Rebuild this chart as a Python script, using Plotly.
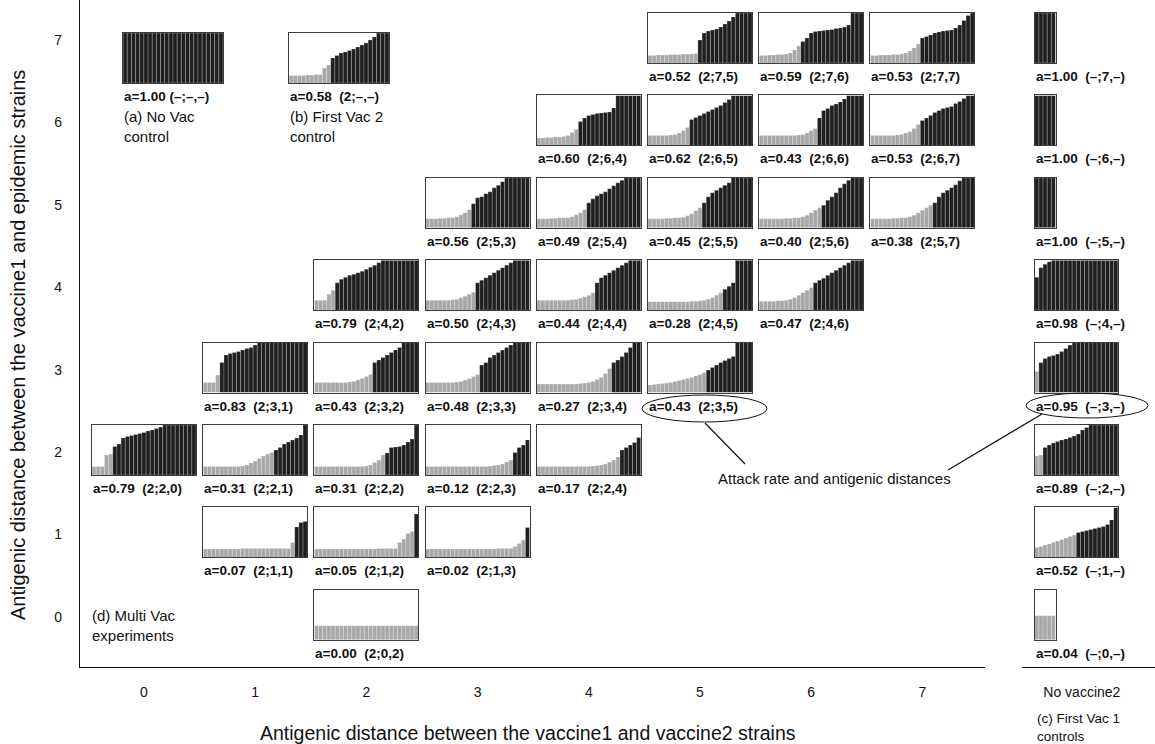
import plotly.graph_objects as go

W, H = 1155, 744
FONT = "Liberation Sans, Arial, Helvetica, sans-serif"

# ---------------- data ----------------
col_labels = ["0", "1", "2", "3", "4", "5", "6", "7"]
row_labels = ["0", "1", "2", "3", "4", "5", "6", "7"]

# multi-vaccination experiments (vaccine2 distance = column, epidemic distance = row)
panel_row = [7, 7, 7, 6, 6, 6, 6, 5, 5, 5, 5, 5, 4, 4, 4, 4, 4, 3, 3, 3, 3, 3, 2, 2, 2, 2, 2, 1, 1, 1, 0]
panel_col = [5, 6, 7, 4, 5, 6, 7, 3, 4, 5, 6, 7, 2, 3, 4, 5, 6, 1, 2, 3, 4, 5, 0, 1, 2, 3, 4, 1, 2, 3, 2]
panel_attack = [0.52, 0.59, 0.53, 0.60, 0.62, 0.43, 0.53, 0.56, 0.49, 0.45, 0.40, 0.38,
                0.79, 0.50, 0.44, 0.28, 0.47, 0.83, 0.43, 0.48, 0.27, 0.43,
                0.79, 0.31, 0.31, 0.12, 0.17, 0.07, 0.05, 0.02, 0.00]
panel_ngray = [12, 10, 12, 10, 10, 14, 12, 11, 12, 13, 15, 15, 5, 12, 14, 18, 13, 4, 14, 13, 18, 14,
               5, 17, 17, 21, 20, 22, 24, 24, 25]
panel_heights = [
    [0.15,0.15,0.16,0.16,0.16,0.17,0.17,0.17,0.18,0.18,0.18,0.19,0.46,0.60,0.64,0.66,0.68,0.72,0.78,0.84,0.92,1,1,1,1],
    [0.15,0.15,0.16,0.16,0.17,0.17,0.18,0.20,0.26,0.34,0.43,0.50,0.60,0.63,0.64,0.65,0.66,0.67,0.69,0.70,0.72,0.76,1,1,1],
    [0.15,0.15,0.16,0.16,0.16,0.17,0.17,0.18,0.20,0.24,0.30,0.38,0.50,0.53,0.56,0.60,0.62,0.64,0.65,0.66,0.70,0.76,0.85,0.95,1],
    [0.15,0.15,0.16,0.16,0.17,0.17,0.18,0.20,0.26,0.32,0.48,0.55,0.60,0.62,0.64,0.65,0.66,0.67,0.75,1,1,1,1,1,1],
    [0.20,0.20,0.20,0.20,0.20,0.21,0.22,0.25,0.30,0.36,0.52,0.56,0.60,0.64,0.68,0.72,0.76,0.80,0.86,0.92,1,1,1,1,1],
    [0.20,0.20,0.20,0.20,0.20,0.20,0.20,0.20,0.20,0.21,0.22,0.25,0.30,0.34,0.55,0.70,0.74,0.80,0.83,0.87,0.93,1,1,1,1],
    [0.20,0.20,0.20,0.20,0.20,0.20,0.21,0.22,0.25,0.28,0.34,0.42,0.50,0.55,0.60,0.66,0.70,0.74,0.76,0.78,0.84,0.88,0.94,1,1],
    [0.18,0.18,0.18,0.19,0.19,0.20,0.20,0.22,0.26,0.30,0.36,0.48,0.60,0.62,0.68,0.72,0.80,0.85,0.92,1,1,1,1,1,1],
    [0.18,0.18,0.18,0.19,0.19,0.20,0.20,0.20,0.22,0.26,0.30,0.36,0.50,0.58,0.64,0.68,0.72,0.78,0.84,0.90,0.95,1,1,1,1],
    [0.18,0.18,0.18,0.18,0.19,0.19,0.20,0.20,0.21,0.24,0.28,0.34,0.40,0.50,0.62,0.70,0.75,0.80,0.85,0.90,1,1,1,1,1],
    [0.18,0.18,0.18,0.18,0.18,0.18,0.19,0.19,0.20,0.20,0.22,0.25,0.30,0.35,0.40,0.45,0.55,0.62,0.70,0.80,0.88,0.95,1,1,1],
    [0.18,0.18,0.18,0.18,0.18,0.19,0.19,0.20,0.20,0.22,0.25,0.30,0.35,0.40,0.45,0.50,0.62,0.70,0.75,0.80,0.86,0.94,1,1,1],
    [0.20,0.20,0.20,0.32,0.40,0.55,0.62,0.66,0.70,0.72,0.75,0.78,0.82,0.86,0.90,0.95,1,1,1,1,1,1,1,1,1],
    [0.20,0.20,0.20,0.20,0.20,0.20,0.21,0.22,0.25,0.28,0.32,0.36,0.55,0.60,0.65,0.70,0.75,0.80,0.85,0.90,0.95,1,1,1,1],
    [0.20,0.20,0.20,0.20,0.20,0.20,0.20,0.20,0.21,0.22,0.24,0.27,0.30,0.35,0.55,0.65,0.70,0.75,0.80,0.85,0.90,0.95,1,1,1],
    [0.17,0.17,0.17,0.17,0.17,0.17,0.17,0.17,0.17,0.17,0.18,0.18,0.19,0.20,0.22,0.25,0.30,0.35,0.42,0.48,0.55,1,1,1,1],
    [0.18,0.18,0.18,0.18,0.19,0.19,0.20,0.22,0.25,0.30,0.35,0.40,0.45,0.55,0.60,0.64,0.70,0.75,0.80,0.85,0.90,0.95,1,1,1],
    [0.20,0.20,0.20,0.35,0.60,0.75,0.78,0.80,0.82,0.85,0.88,0.90,0.95,1,1,1,1,1,1,1,1,1,1,1,1],
    [0.20,0.20,0.20,0.20,0.20,0.20,0.20,0.20,0.21,0.22,0.25,0.28,0.32,0.36,0.60,0.65,0.70,0.75,0.80,0.85,0.90,1,1,1,1],
    [0.20,0.20,0.20,0.20,0.20,0.20,0.20,0.21,0.22,0.25,0.28,0.32,0.36,0.55,0.60,0.70,0.75,0.80,0.85,0.90,0.95,1,1,1,1],
    [0.17,0.17,0.17,0.17,0.17,0.17,0.17,0.17,0.17,0.17,0.18,0.19,0.20,0.22,0.26,0.30,0.38,0.48,0.60,0.65,0.72,0.80,0.90,1,1],
    [0.15,0.16,0.17,0.18,0.19,0.20,0.22,0.24,0.26,0.28,0.30,0.33,0.36,0.40,0.45,0.50,0.55,0.60,0.64,0.68,0.72,1,1,1,1],
    [0.17,0.17,0.17,0.40,0.42,0.57,0.62,0.74,0.77,0.79,0.81,0.83,0.85,0.88,0.90,0.93,0.96,1,1,1,1,1,1,1,1],
    [0.17,0.17,0.17,0.17,0.17,0.17,0.17,0.17,0.17,0.18,0.20,0.24,0.28,0.33,0.38,0.42,0.45,0.50,0.55,0.62,0.66,0.70,0.74,0.80,1],
    [0.17,0.17,0.17,0.17,0.17,0.17,0.17,0.17,0.17,0.17,0.17,0.17,0.18,0.20,0.25,0.30,0.40,0.44,0.55,0.56,0.57,0.60,0.66,0.72,1],
    [0.17,0.17,0.17,0.17,0.17,0.17,0.17,0.17,0.17,0.17,0.17,0.17,0.17,0.17,0.17,0.18,0.19,0.20,0.22,0.26,0.30,0.45,0.55,0.60,0.70],
    [0.17,0.17,0.17,0.17,0.17,0.17,0.17,0.17,0.17,0.17,0.17,0.17,0.17,0.18,0.19,0.20,0.22,0.26,0.30,0.36,0.50,0.55,0.60,0.65,0.75],
    [0.17,0.17,0.17,0.17,0.17,0.17,0.17,0.17,0.17,0.18,0.18,0.18,0.18,0.18,0.18,0.18,0.18,0.18,0.18,0.18,0.18,0.30,0.61,0.70,0.72],
    [0.17,0.17,0.17,0.17,0.17,0.17,0.17,0.17,0.17,0.17,0.17,0.17,0.17,0.17,0.17,0.18,0.18,0.18,0.18,0.18,0.30,0.37,0.48,0.52,0.87],
    [0.17,0.17,0.17,0.17,0.17,0.17,0.17,0.17,0.17,0.17,0.17,0.17,0.17,0.17,0.17,0.17,0.17,0.18,0.18,0.18,0.18,0.22,0.28,0.35,0.60],
    [0.28,0.28,0.28,0.28,0.28,0.28,0.28,0.28,0.28,0.28,0.28,0.28,0.28,0.28,0.28,0.28,0.28,0.28,0.28,0.28,0.28,0.28,0.28,0.28,0.28],
]

# controls (a) no vaccination, (b) first vaccination with strain 2 only
control_col = [0.261, 1.754]
control_row = [6.757, 6.757]
control_text = ["a=1.00 (\u2013;\u2013,\u2013)", "a=0.58\u00a0\u00a0(2;\u2013,\u2013)"]
control_caption = ["(a) No Vac<br>control", "(b) First Vac 2<br>control"]
control_ngray = [0, 10]
control_heights = [
    [1, 1, 1, 1, 1, 1, 1, 1, 1, 1, 1, 1, 1, 1, 1, 1, 1, 1, 1, 1, 1, 1, 1, 1],
    [0.15,0.15,0.15,0.15,0.16,0.16,0.17,0.17,0.30,0.36,0.50,0.55,0.60,0.62,0.65,0.68,0.72,0.76,0.80,0.86,0.92,1,1,1],
]

# (c) First Vac 1 controls, no vaccine2
vac1_row = [7, 6, 5, 4, 3, 2, 1, 0]
vac1_attack = [1.00, 1.00, 1.00, 0.98, 0.95, 0.89, 0.52, 0.04]
vac1_ngray = [0, 0, 0, 0, 1, 2, 10, 5]
vac1_heights = [
    [1, 1, 1, 1, 1],
    [1, 1, 1, 1, 1],
    [1, 1, 1, 1, 1],
    [0.66,0.85,0.92,0.97,1,1,1,1,1,1,1,1,1,1,1,1,1,1,1,1],
    [0.42,0.60,0.68,0.72,0.74,0.77,0.82,0.88,0.95,1,1,1,1,1,1,1,1,1,1,1],
    [0.38,0.40,0.55,0.60,0.64,0.67,0.70,0.72,0.75,0.78,0.82,0.90,0.95,1,1,1,1,1,1,1],
    [0.20,0.22,0.25,0.27,0.30,0.33,0.36,0.39,0.42,0.45,0.50,0.52,0.54,0.56,0.58,0.60,0.62,0.66,0.75,1.0],
    [0.48, 0.48, 0.48, 0.48, 0.48],
]
vac1_col = 8.01

# ---------------- geometry (pixels) ----------------
AX_LEFT, AX_RIGHT, AX_BOTTOM = 80, 985, 667
COL0, COLSTEP = 144.0, 111.2
ROW7_TOP, ROWSTEP = 13.0, 82.4
PANEL_H = 50.0
BAR_PX = 4.16
LABEL_GAP = 13.5

BLACK = "#1f1f1f"
GRAY = "#a8a8a8"


def col_px(c):
    return COL0 + COLSTEP * c


def row_top(r):
    return ROW7_TOP + ROWSTEP * (7 - r)


def px_x(p):
    return p / W


def px_y(p):
    return 1 - p / H


fig = go.Figure()
layout = {}
annotations = []
axis_k = [2]


def add_panel(left, top, heights, ngray, label):
    k = axis_k[0]
    axis_k[0] += 1
    n = len(heights)
    wpx = n * BAR_PX
    colors = [GRAY if i < ngray else BLACK for i in range(n)]
    layout[f"xaxis{k}"] = dict(domain=[px_x(left), px_x(left + wpx)], range=[-0.5, n - 0.5],
                               anchor=f"y{k}", showline=True, mirror=True, linecolor="#3c3c3c",
                               linewidth=1, showgrid=False, zeroline=False, showticklabels=False,
                               ticks="", fixedrange=True)
    layout[f"yaxis{k}"] = dict(domain=[px_y(top + PANEL_H), px_y(top)], range=[0, 1],
                               anchor=f"x{k}", showline=True, mirror=True, linecolor="#3c3c3c",
                               linewidth=1, showgrid=False, zeroline=False, showticklabels=False,
                               ticks="", fixedrange=True)
    fig.add_trace(go.Bar(x=list(range(n)), y=heights, width=1,
                         marker=dict(color=colors, line=dict(color="rgba(255,255,255,0.28)", width=0.8)),
                         xaxis=f"x{k}", yaxis=f"y{k}", showlegend=False, hoverinfo="skip"))
    annotations.append(dict(x=px_x(left - 1), y=px_y(top + PANEL_H + LABEL_GAP), xref="paper", yref="paper",
                            xanchor="left", yanchor="middle", showarrow=False,
                            text=f"<b>{label}</b>", font=dict(family=FONT, size=13.5, color="#111")))


for r, c, a, ng, h in zip(panel_row, panel_col, panel_attack, panel_ngray, panel_heights):
    wpx = len(h) * BAR_PX
    add_panel(col_px(c) - wpx / 2, row_top(r), h, ng,
              f"a={a:.2f}\u00a0\u00a0(2;{r},{c})")

for c, r, txt, cap, ng, h in zip(control_col, control_row, control_text, control_caption,
                                 control_ngray, control_heights):
    wpx = len(h) * BAR_PX
    left = col_px(c) - wpx / 2
    add_panel(left, row_top(r), h, ng, txt)
    annotations.append(dict(x=px_x(left - 1), y=px_y(row_top(r) + PANEL_H + 43), xref="paper", yref="paper",
                            xanchor="left", yanchor="middle", showarrow=False, align="left",
                            text=cap, font=dict(family=FONT, size=15, color="#111")))

for r, a, ng, h in zip(vac1_row, vac1_attack, vac1_ngray, vac1_heights):
    add_panel(col_px(vac1_col), row_top(r), h, ng,
              f"a={a:.2f}\u00a0\u00a0(\u2013;{r},\u2013)")

# main axes
xr = [(AX_LEFT - COL0) / COLSTEP, (AX_RIGHT - COL0) / COLSTEP]
y_lab0 = row_top(0) + 27  # pixel of row value 0 label
yr = [(y_lab0 - AX_BOTTOM) / ROWSTEP, y_lab0 / ROWSTEP]
axis_font = dict(family=FONT, size=14, color="#111")
layout["xaxis"] = dict(domain=[px_x(AX_LEFT), px_x(AX_RIGHT)], range=xr, tickvals=list(range(8)),
                       ticktext=col_labels, showline=True, linecolor="#111", linewidth=1.3,
                       showgrid=False, zeroline=False, ticks="", ticklabelstandoff=12,
                       tickfont=axis_font, anchor="y", fixedrange=True)
layout["yaxis"] = dict(domain=[px_y(AX_BOTTOM), 1], range=yr, tickvals=list(range(8)),
                       ticktext=row_labels, showline=True, linecolor="#111", linewidth=1.3,
                       showgrid=False, zeroline=False, ticks="", ticklabelstandoff=14,
                       tickfont=axis_font, anchor="x", fixedrange=True)
kR = axis_k[0]
layout[f"xaxis{kR}"] = dict(domain=[px_x(1022), 1], range=[-1.0, 1.0], tickvals=[-0.1],
                            ticktext=["No vaccine2"], showline=True, linecolor="#111", linewidth=1.3,
                            showgrid=False, zeroline=False, ticks="", ticklabelstandoff=12,
                            tickfont=axis_font, anchor="y", fixedrange=True)
fig.add_trace(go.Scatter(x=[0], y=[-5], mode="markers", marker=dict(opacity=0),
                         showlegend=False, hoverinfo="skip", xaxis="x", yaxis="y"))
fig.add_trace(go.Scatter(x=[0], y=[-5], mode="markers", marker=dict(opacity=0),
                         showlegend=False, hoverinfo="skip", xaxis=f"x{kR}", yaxis="y"))

# free texts
annotations += [
    dict(x=px_x(90), y=px_y(625), xref="paper", yref="paper", xanchor="left", yanchor="middle",
         showarrow=False, align="left", text="(d) Multi Vac<br>experiments",
         font=dict(family=FONT, size=15, color="#111")),
    dict(x=px_x(1035), y=px_y(727), xref="paper", yref="paper", xanchor="left", yanchor="middle",
         showarrow=False, align="left", text="(c) First Vac 1<br>controls",
         font=dict(family=FONT, size=13.5, color="#111")),
    dict(x=px_x(834), y=px_y(478), xref="paper", yref="paper", xanchor="center", yanchor="middle",
         showarrow=False, text="Attack rate and antigenic distances",
         font=dict(family=FONT, size=15, color="#111")),
    dict(x=px_x(528), y=px_y(733), xref="paper", yref="paper", xanchor="center", yanchor="middle",
         showarrow=False, text="Antigenic distance between the vaccine1 and vaccine2 strains",
         font=dict(family=FONT, size=19.5, color="#111")),
    dict(x=px_x(18), y=px_y(345), xref="paper", yref="paper", xanchor="center", yanchor="middle",
         showarrow=False, textangle=-90,
         text="Antigenic distance between the vaccine1 and epidemic strains",
         font=dict(family=FONT, size=20, color="#111")),
]

shapes = [
    dict(type="circle", xref="paper", yref="paper", x0=px_x(642), x1=px_x(767), y0=px_y(422), y1=px_y(395),
         line=dict(color="#111", width=1)),
    dict(type="circle", xref="paper", yref="paper", x0=px_x(1026), x1=px_x(1148), y0=px_y(418), y1=px_y(393),
         line=dict(color="#111", width=1)),
    dict(type="line", xref="paper", yref="paper", x0=px_x(705), y0=px_y(423), x1=px_x(745), y1=px_y(464),
         line=dict(color="#111", width=1.2)),
    dict(type="line", xref="paper", yref="paper", x0=px_x(948), y0=px_y(470), x1=px_x(1042), y1=px_y(414),
         line=dict(color="#111", width=1.2)),
]

fig.update_layout(**layout)
fig.update_layout(width=W, height=H, autosize=False, margin=dict(l=0, r=0, t=0, b=0),
                  paper_bgcolor="white", plot_bgcolor="rgba(0,0,0,0)",
                  annotations=annotations, shapes=shapes, showlegend=False,
                  font=dict(family=FONT, color="#111"))

fig.write_html("out.html", config={"displayModeBar": False})
